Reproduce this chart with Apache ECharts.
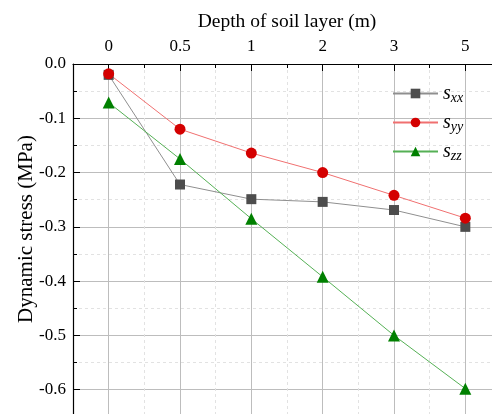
<!DOCTYPE html>
<html><head><meta charset="utf-8">
<script src="https://cdn.jsdelivr.net/npm/echarts@6/dist/echarts.min.js"></script>
<style>html,body{margin:0;padding:0;background:#fff;overflow:hidden}#c{width:520px;height:460px}</style>
</head><body><div id="c"></div>
<script>
const categories = ['0', '0.5', '1', '2', '3', '5'];
const sxx = [-0.020, -0.222, -0.249, -0.254, -0.269, -0.300];
const syy = [-0.018, -0.120, -0.164, -0.200, -0.242, -0.284];
const szz = [-0.071, -0.175, -0.285, -0.392, -0.500, -0.598];
const seriesNames = ['xx', 'yy', 'zz'];

const FONT = '"Liberation Serif", "Times New Roman", serif';
const chart = echarts.init(document.getElementById('c'), null, {renderer: 'canvas'});
const idx = categories.map((c, i) => i);

function mk(name, data, color, lineColor, symbol, size) {
  return {
    name: name, type: 'line', xAxisIndex: 0, yAxisIndex: 0,
    data: data, symbol: symbol, symbolSize: size,
    itemStyle: {color: color},
    lineStyle: {color: lineColor, width: 1},
    emphasis: {disabled: true}, animation: false, z: 5
  };
}

chart.setOption({
  animation: false,
  grid: {left: 73, top: 64, width: 428, height: 380, containLabel: false},
  legend: {
    data: seriesNames, orient: 'vertical', left: 387, top: 76,
    itemWidth: 45, itemHeight: 12, itemGap: 5,
    backgroundColor: 'transparent',
    formatter: n => '{s|s}{sub|' + n + '}',
    textStyle: {
      rich: {
        s: {fontFamily: FONT, fontStyle: 'italic', fontSize: 20, color: '#000', lineHeight: 23},
        sub: {fontFamily: FONT, fontStyle: 'italic', fontSize: 14, color: '#000', lineHeight: 23, verticalAlign: 'bottom', padding: [10, 0, 0, 0]}
      }
    }
  },
  xAxis: [
    {
      type: 'category', position: 'top', data: categories, boundaryGap: true,
      name: 'Depth of soil layer (m)', nameLocation: 'middle', nameGap: 32,
      nameTextStyle: {fontFamily: FONT, fontSize: 19.5, color: '#000'},
      axisLine: {show: true, onZero: false, lineStyle: {color: '#000', width: 1.2}},
      axisTick: {show: true, inside: true, length: 4, lineStyle: {color: '#000'}},
      axisLabel: {fontFamily: FONT, fontSize: 17, color: '#000', margin: 9},
      splitLine: {show: true, lineStyle: {color: '#e2e2e2', type: [3, 3], width: 1}}
    },
    {
      type: 'value', position: 'top', min: -0.5, max: 5.5,
      axisLine: {show: false, onZero: false},
      axisLabel: {show: false},
      axisTick: {show: true, inside: true, length: 7, customValues: idx, lineStyle: {color: '#000'}},
      splitLine: {show: true, lineStyle: {color: '#bdbdbd', width: 1}}
    }
  ],
  yAxis: {
    type: 'value', min: -0.7, max: 0, interval: 0.1,
    name: 'Dynamic stress (MPa)', nameLocation: 'middle', nameGap: 36, nameMoveOverlap: false,
    nameTextStyle: {fontFamily: FONT, fontSize: 21, color: '#000', padding: [0, 0, 0, 50]},
    axisLine: {show: true, onZero: false, lineStyle: {color: '#000', width: 1.2}},
    axisTick: {show: true, inside: true, length: 7, lineStyle: {color: '#000'}},
    minorTick: {show: true, splitNumber: 2, length: 4, lineStyle: {color: '#000'}},
    axisLabel: {fontFamily: FONT, fontSize: 17, color: '#000', margin: 7,
      formatter: v => (v === 0 ? '0.0' : v.toFixed(1))},
    splitLine: {show: true, lineStyle: {color: '#bdbdbd', width: 1}},
    minorSplitLine: {show: true, lineStyle: {color: '#e2e2e2', type: [3, 3], width: 1}}
  },
  series: [
    mk('xx', sxx, '#4d4d4d', '#8f8f8f', 'rect', 10),
    mk('yy', syy, '#d40000', '#f07070', 'circle', 11),
    mk('zz', szz, '#008000', '#55b055', 'triangle', 12)
  ]
});
</script></body></html>
